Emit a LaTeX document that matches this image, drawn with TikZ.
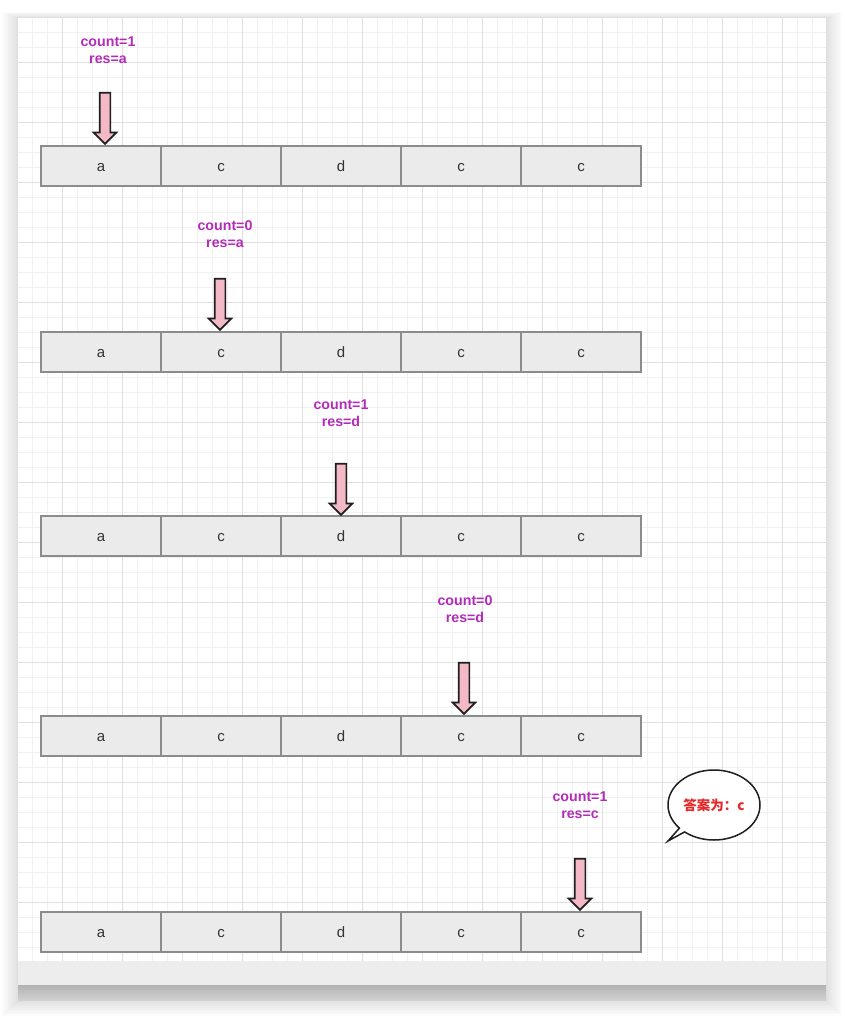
\documentclass[tikz,border=0pt]{standalone}
\usepackage{fontspec}
\setmainfont{Liberation Sans}
\newfontfamily\cjk{Noto Sans CJK SC}
\usetikzlibrary{shapes.arrows,shapes.callouts}

\definecolor{cellFill}{HTML}{EBEBEB}
\definecolor{cellBorder}{HTML}{8C8C8C}
\definecolor{cellText}{HTML}{333333}
\definecolor{statePurple}{HTML}{B22CB8}
\definecolor{answerRed}{HTML}{E62828}
\definecolor{pointerPink}{HTML}{F4B9C6}
\definecolor{minorLine}{HTML}{F1F1F1}
\definecolor{majorLine}{HTML}{E0E0E0}

\tikzstyle{cell}=[rectangle, draw=cellBorder, fill=cellFill, line width=1.2pt, minimum width=120pt, minimum height=40pt, inner sep=0pt, text=cellText, text height=11pt, text depth=0pt, font=\fontsize{15}{15}\selectfont]
\tikzstyle{stateText}=[align=center, text=statePurple, font=\fontsize{14.2}{17.6}\selectfont\bfseries, inner sep=0pt]
\tikzstyle{pointer}=[single arrow, shape border rotate=270, draw=black!88, line width=1.7pt, fill=pointerPink, text width=9pt, text height=0pt, text depth=0pt, minimum height=51pt, minimum width=22pt, single arrow head extend=6pt, inner sep=0pt]
\tikzstyle{bubble}=[ellipse callout, draw=black!88, line width=1.5pt, fill=white, minimum width=92pt, minimum height=70pt, inner sep=0pt, callout pointer arc=9, text=answerRed, font=\fontsize{13.5}{13.5}\selectfont\cjk\bfseries]

\begin{document}
\begin{tikzpicture}[x=1pt, y=-1pt]

	\useasboundingbox (0,0) rectangle (844,1018);

	% Schatten und Blatt
	\foreach \k in {1,...,10}
		\fill[black, opacity=0.012] (18-\k*1.6,18-\k*0.6) rectangle (826+\k*1.6,1000+\k*1.6);
	\fill[white] (18,18) rectangle (826,962);
	\fill[black!7] (18,961) rectangle (826,985);
	\shade[top color=black!30, bottom color=black!18] (18,985) rectangle (826,1000);

	% Raster
	\foreach \x in {32,47,...,826}
		\draw[minorLine, line width=0.8pt] (\x,18) -- (\x,961);
	\foreach \y in {32,47,...,961}
		\draw[minorLine, line width=0.8pt] (18,\y) -- (826,\y);
	\foreach \x in {62,122,...,826}
		\draw[majorLine, line width=0.8pt] (\x,18) -- (\x,961);
	\foreach \y in {62,122,...,961}
		\draw[majorLine, line width=0.8pt] (18,\y) -- (826,\y);

	% Reihen
	\foreach \row/\y in {1/166, 2/352, 3/536, 4/736, 5/932}
		{
			\foreach \ch [count=\i] in {a,c,d,c,c}
				{
					\node (r\row c\i) at ({101+120*(\i-1)},\y) [cell] {\ch};
				}
		}

	% Zustand und Zeiger
	\node (s1) at (108,50) [stateText] {count=1\\res=a};
	\node (p1) at (105,145) [pointer, anchor=tip] {};

	\node (s2) at (225,234) [stateText] {count=0\\res=a};
	\node (p2) at (220,331) [pointer, anchor=tip] {};

	\node (s3) at (341,413) [stateText] {count=1\\res=d};
	\node (p3) at (341,516) [pointer, anchor=tip] {};

	\node (s4) at (465,609) [stateText] {count=0\\res=d};
	\node (p4) at (464,715) [pointer, anchor=tip] {};

	\node (s5) at (580,805) [stateText] {count=1\\res=c};
	\node (p5) at (580,911) [pointer, anchor=tip] {};

	% Antwort
	\coordinate (tail) at (668,841);
	\node (answer) at (714,805) [bubble, callout absolute pointer={(tail)}] {答案为：c};

\end{tikzpicture}
\end{document}
